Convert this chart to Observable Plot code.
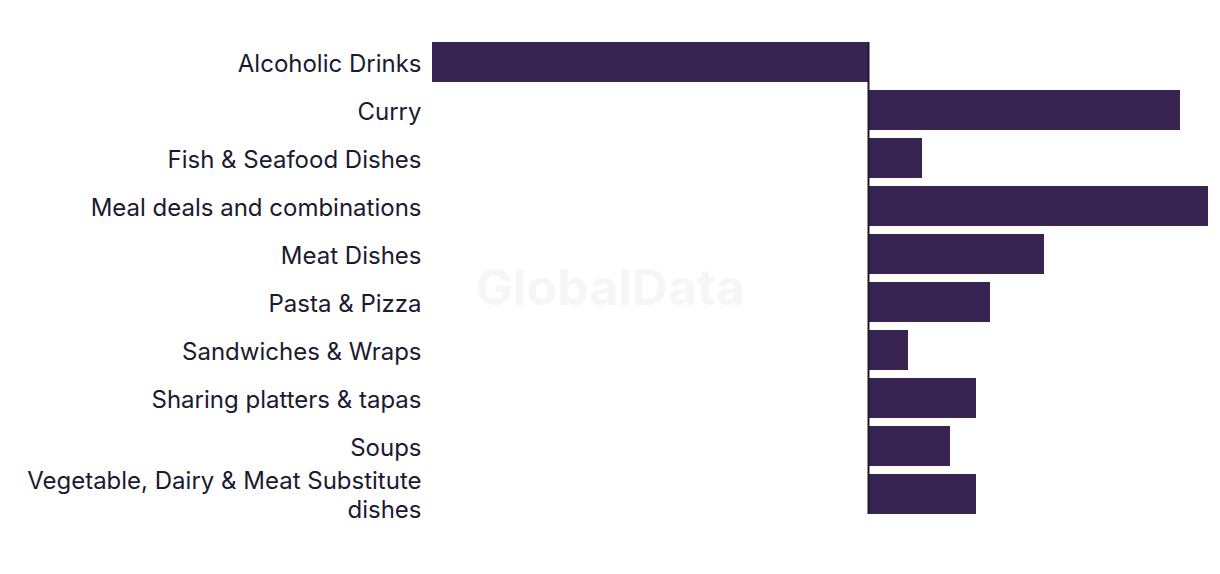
<!DOCTYPE html>
<html>
<head>
<meta charset="utf-8">
<script src="https://cdn.jsdelivr.net/npm/d3@7"></script>
<script src="https://cdn.jsdelivr.net/npm/@observablehq/plot@0.6"></script>
<style>
  html, body { margin: 0; padding: 0; background: #fff; }
  #wrap { position: relative; width: 1220px; height: 574px; }
  #wm { position: absolute; left: 0; top: 0; width: 1220px; height: 574px; display: flex; align-items: center; justify-content: center; font-family: Inter, "Noto Sans", sans-serif; font-weight: 700; font-size: 50px; color: #f6f6f6; pointer-events: none; }
</style>
</head>
<body>
<div id="wrap"><div id="wm">GlobalData</div><div id="chart"></div></div>
<script>
const categories = [
  "Alcoholic Drinks",
  "Curry",
  "Fish & Seafood Dishes",
  "Meal deals and combinations",
  "Meat Dishes",
  "Pasta & Pizza",
  "Sandwiches & Wraps",
  "Sharing platters & tapas",
  "Soups",
  "Vegetable, Dairy & Meat Substitute dishes"
];
const values = [-43.6, 31.2, 5.4, 34.0, 17.6, 12.2, 4.0, 10.8, 8.2, 10.8];

const data = categories.map((c, i) => ({category: c, value: values[i]}));

const chart = Plot.plot({
  width: 1220,
  height: 574,
  marginLeft: 432,
  marginRight: 12,
  marginTop: 34,
  marginBottom: 52,
  style: {fontFamily: "Inter, 'Noto Sans', sans-serif", fontSize: "24px", color: "#1b1a30", background: "transparent"},
  x: {domain: [-43.6, 34], axis: null},
  y: {domain: categories, padding: 1/6, round: false, label: null},
  marks: [
    Plot.barX(data, {x: "value", y: "category", fill: "#372453"}),
    Plot.ruleX([0], {y1: () => categories[0], y2: () => categories[categories.length - 1], stroke: "#1b1a30", strokeWidth: 2}),
    Plot.axisY({tickSize: 0, tickPadding: 11, fontSize: 24, lineWidth: 17, lineHeight: 1.17, fill: "#1b1a30", label: null})
  ]
});
document.getElementById("chart").appendChild(chart);
</script>
</body>
</html>
